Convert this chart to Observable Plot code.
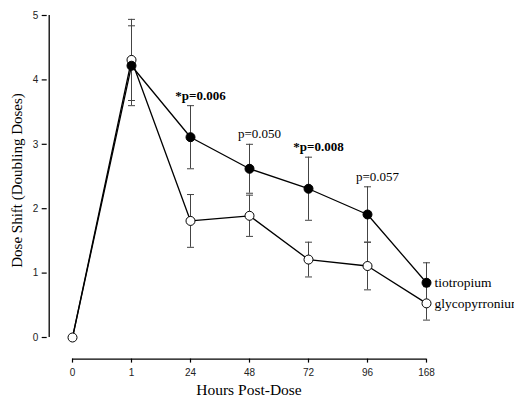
<!DOCTYPE html>
<html><head><meta charset="utf-8">
<script src="https://cdn.jsdelivr.net/npm/d3@7"></script>
<script src="https://cdn.jsdelivr.net/npm/@observablehq/plot@0.6"></script>
<style>html,body{margin:0;padding:0;background:#fff;} #chart{width:514px;height:398px;overflow:hidden;}</style>
</head><body><div id="chart"></div>
<script>
const hours = ["0", "1", "24", "48", "72", "96", "168"];
const tiotropium = [0, 4.22, 3.11, 2.62, 2.31, 1.91, 0.85];
const tiotropiumErr = [0, 0.62, 0.49, 0.38, 0.49, 0.43, 0.31];
const glycopyrronium = [0, 4.31, 1.81, 1.89, 1.21, 1.11, 0.53];
const glycopyrroniumErr = [0, 0.63, 0.41, 0.32, 0.27, 0.37, 0.26];
const pHours = ["24", "48", "72", "96"];
const pLabels = ["*p=0.006", "p=0.050", "*p=0.008", "p=0.057"];
const pSignificant = [true, false, true, false];
const yTicks = [0, 1, 2, 3, 4, 5];
const seriesNames = ["tiotropium", "glycopyrronium"];
const xTitle = "Hours Post-Dose";
const yTitle = "Dose Shift (Doubling Doses)";

const tioRows = hours.map((h, i) => ({hour: h, value: tiotropium[i], err: tiotropiumErr[i], idx: i}));
const glyRows = hours.map((h, i) => ({hour: h, value: glycopyrronium[i], err: glycopyrroniumErr[i], idx: i}));
const errRows = [...glyRows, ...tioRows].filter(d => d.err > 0);
const pRows = pHours.map((h, i) => {
  const j = hours.indexOf(h);
  return {hour: h, top: tiotropium[j] + tiotropiumErr[j], label: pLabels[i], sig: pSignificant[i]};
});
const last = hours.length - 1;
const nameRows = [
  {hour: hours[last], value: tiotropium[last], name: seriesNames[0]},
  {hour: hours[last], value: glycopyrronium[last], name: seriesNames[1]}
];

const sans = "'Liberation Sans', Arial, sans-serif";
const serif = "'Liberation Serif', 'Times New Roman', serif";
const axOff = 21.6;
const yOff = -23.3;
const capSymbol = {draw(context) { context.moveTo(-3.5, 0); context.lineTo(3.5, 0); }};

const chart = Plot.plot({
  width: 514,
  height: 398,
  marginLeft: 70,
  marginRight: 87,
  marginTop: 15,
  marginBottom: 61,
  style: {background: "white", overflow: "visible"},
  x: {type: "point", domain: hours, padding: 0},
  y: {domain: [0, 5]},
  marks: [
    Plot.ruleX([hours[0]], {y1: 0, y2: 5, dx: yOff, stroke: "black", strokeWidth: 1.3}),
    Plot.ruleY([0], {x1: () => hours[0], x2: () => hours[last], dy: axOff, stroke: "black", strokeWidth: 1.3}),
    Plot.axisY({ticks: yTicks, tickSize: 5, tickPadding: 4, dx: yOff, label: null, fontSize: 10, fontFamily: sans, fill: "#222", stroke: "black", strokeWidth: 1.2, tickFormat: d => String(d)}),
    Plot.axisX({tickSize: 4, tickPadding: 6, dy: axOff, label: null, fontSize: 10, fontFamily: sans, fill: "#222", stroke: "black", strokeWidth: 1.2}),
    Plot.text([yTitle], {frameAnchor: "left", text: d => d, rotate: -90, textAnchor: "middle", dx: -53, dy: 4, fontSize: 15, fontFamily: serif, fill: "black"}),
    Plot.text([xTitle], {frameAnchor: "bottom", text: d => d, dy: 57, fontSize: 15.5, fontFamily: serif, fill: "black"}),
    Plot.ruleX(errRows, {x: "hour", y1: d => d.value - d.err, y2: d => d.value + d.err, stroke: "#444", strokeWidth: 1}),
    Plot.dot(errRows, {x: "hour", y: d => d.value - d.err, symbol: capSymbol, fill: "none", stroke: "#444", strokeWidth: 1}),
    Plot.dot(errRows, {x: "hour", y: d => d.value + d.err, symbol: capSymbol, fill: "none", stroke: "#444", strokeWidth: 1}),
    Plot.line(glyRows, {x: "hour", y: "value", stroke: "black", strokeWidth: 1.3}),
    Plot.line(tioRows, {x: "hour", y: "value", stroke: "black", strokeWidth: 1.3}),
    Plot.dot(glyRows, {x: "hour", y: "value", r: 4.5, fill: "white", stroke: "black", strokeWidth: 1}),
    Plot.dot(tioRows.filter(d => d.idx > 0), {x: "hour", y: "value", r: 4.5, fill: "black", stroke: "black", strokeWidth: 1}),
    Plot.text(pRows.filter(d => d.sig), {x: "hour", y: "top", text: "label", dx: 10, dy: -10, fontSize: 13, fontWeight: "bold", fontFamily: serif, fill: "black"}),
    Plot.text(pRows.filter(d => !d.sig), {x: "hour", y: "top", text: "label", dx: 10, dy: -10, fontSize: 13, fontFamily: serif, fill: "black"}),
    Plot.text(nameRows, {x: "hour", y: "value", text: "name", dx: 8, textAnchor: "start", fontSize: 13.5, fontFamily: serif, fill: "black"})
  ]
});
document.getElementById("chart").appendChild(chart);
</script>
</body></html>
